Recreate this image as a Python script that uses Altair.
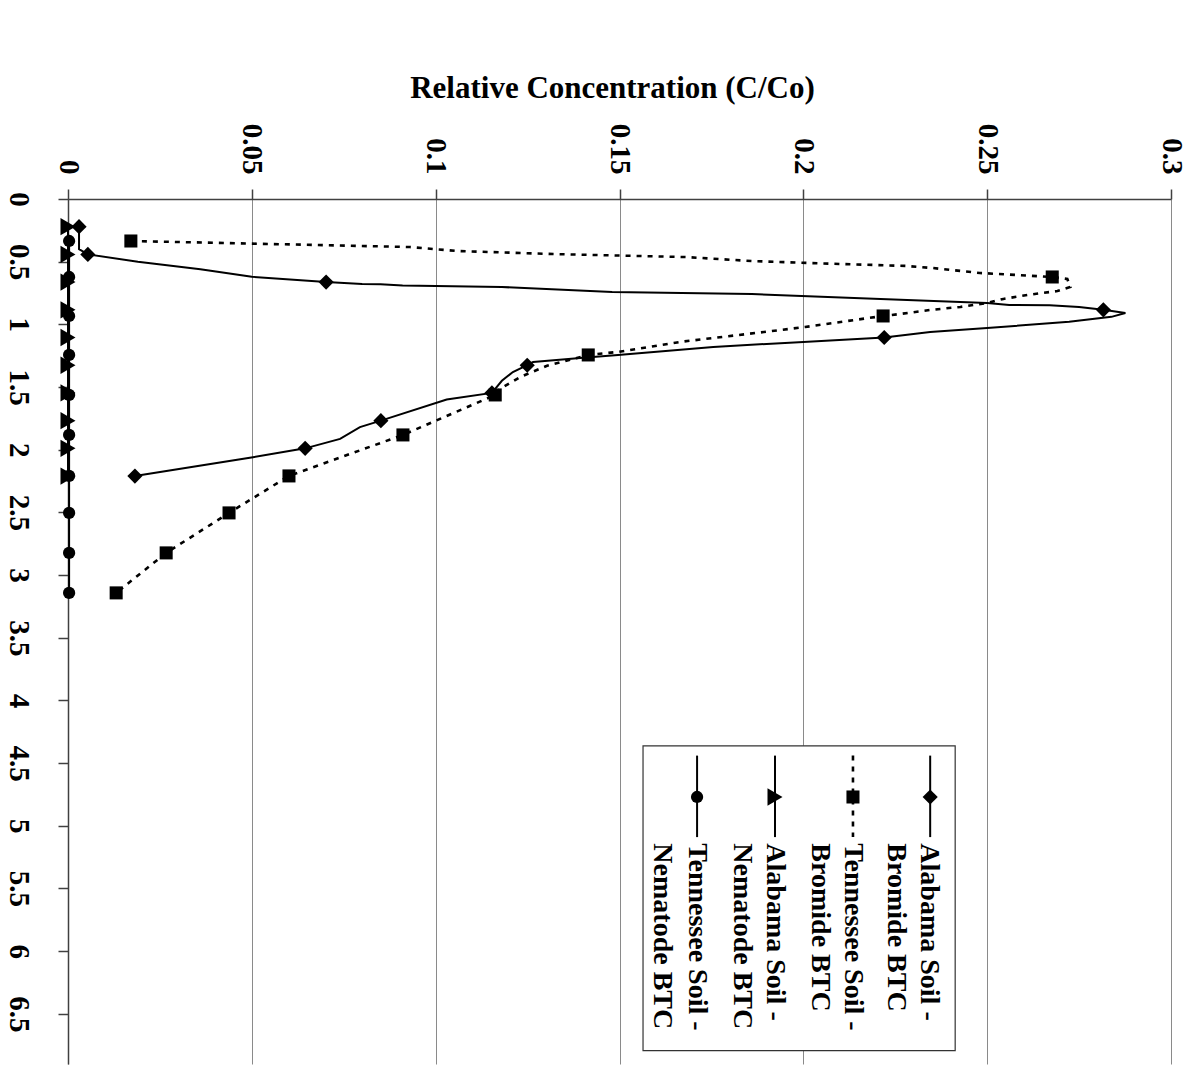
import altair as alt
import pandas as pd

# ---------------- data ----------------
# Alabama Soil - Bromide BTC : marked points (pore volume, C/Co)
al_br_pv = [0.221, 0.442, 0.663, 0.884, 1.105, 1.326, 1.547, 1.768, 1.989, 2.210]
al_br_c = [0.0030, 0.0054, 0.0702, 0.2816, 0.2220, 0.1249, 0.1153, 0.0851, 0.0645, 0.0182]
# Alabama Soil - Bromide BTC : drawn curve
al_br_line_pv = [0.221, 0.40, 0.442, 0.50, 0.56, 0.62, 0.663, 0.678, 0.680, 0.690, 0.694,
                 0.702, 0.742, 0.758, 0.798, 0.829, 0.845, 0.847, 0.861, 0.884, 0.909,
                 0.940, 0.980, 1.029, 1.061, 1.105, 1.140, 1.180, 1.244, 1.268, 1.300,
                 1.326, 1.380, 1.450, 1.547, 1.600, 1.768, 1.820, 1.914, 1.989, 2.060, 2.210]
al_br_line_c = [0.0030, 0.0030, 0.0054, 0.0190, 0.0360, 0.0500, 0.0702, 0.0800, 0.0850, 0.0910, 0.1000,
                0.1180, 0.1480, 0.1860, 0.2210, 0.2500, 0.2560, 0.2670, 0.2750, 0.2816, 0.2876,
                0.2838, 0.2723, 0.2500, 0.2345, 0.2220, 0.2000, 0.1755, 0.1496, 0.1393, 0.1265,
                0.1249, 0.1210, 0.1180, 0.1153, 0.1030, 0.0851, 0.0794, 0.0740, 0.0645, 0.0503, 0.0182]

# Tennessee Soil - Bromide BTC : marked points
tn_br_pv = [0.335, 0.622, 0.933, 1.244, 1.563, 1.882, 2.209, 2.504, 2.823, 3.142]
tn_br_c = [0.0171, 0.2677, 0.2217, 0.1415, 0.1162, 0.0911, 0.0601, 0.0438, 0.0267, 0.0131]
# Tennessee Soil - Bromide BTC : drawn curve
tn_br_line_pv = [0.335, 0.383, 0.415, 0.439, 0.463, 0.495, 0.511, 0.534, 0.550, 0.590, 0.622,
                 0.638, 0.702, 0.734, 0.766, 0.797, 0.829, 0.861, 0.885, 0.917, 0.933,
                 1.021, 1.077, 1.140, 1.220, 1.244, 1.330, 1.420, 1.515, 1.563,
                 1.882, 2.209, 2.504, 2.823, 3.142]
tn_br_line_c = [0.0171, 0.0930, 0.1060, 0.1320, 0.1680, 0.1860, 0.2020, 0.2280, 0.2350, 0.2480, 0.2677,
                0.2718, 0.2726, 0.2691, 0.2609, 0.2544, 0.2500, 0.2427, 0.2345, 0.2264, 0.2217,
                0.2005, 0.1847, 0.1665, 0.1496, 0.1415, 0.1303, 0.1230, 0.1175, 0.1162,
                0.0911, 0.0601, 0.0438, 0.0267, 0.0131]

# Nematode BTCs (essentially zero)
al_nem_pv = [0.221, 0.442, 0.663, 0.884, 1.105, 1.326, 1.547, 1.768, 1.989, 2.210]
al_nem_c = [0, 0, 0, 0, 0, 0, 0, 0, 0, 0]
tn_nem_pv = [0.335, 0.622, 0.933, 1.244, 1.563, 1.882, 2.209, 2.504, 2.823, 3.142]
tn_nem_c = [0.0003, 0.0003, 0.0003, 0.0003, 0.0003, 0.0003, 0.0003, 0.0003, 0.0003, 0.0003]

x_ticks = [0, 0.05, 0.1, 0.15, 0.2, 0.25, 0.3]
y_ticks = [0, 0.5, 1, 1.5, 2, 2.5, 3, 3.5, 4, 4.5, 5, 5.5, 6, 6.5]

# legend (placed in data units of the chart)
leg_names_1 = ["Alabama Soil -", "Tennessee Soil -", "Alabama Soil -", "Tennessee Soil -"]
leg_names_2 = ["Bromide BTC", "Bromide BTC", "Nematode BTC", "Nematode BTC"]
leg_line_c = [0.2345, 0.2135, 0.1923, 0.1711]
leg_text1_c = [0.2342, 0.2136, 0.1923, 0.1711]
leg_text2_c = [0.2253, 0.2046, 0.1834, 0.1616]
leg_line_pv = [4.44, 5.09]
leg_mark_pv = 4.77
leg_text_pv = 5.14
leg_box_c = [0.1564, 0.2413]
leg_box_pv = [4.362, 6.794]

FONT = "Liberation Serif"

# ---------------- encodings ----------------
X = alt.X("conc:Q",
          scale=alt.Scale(domain=[0, 0.3], nice=False, zero=False),
          axis=alt.Axis(orient="top", values=x_ticks, format="~g",
                        labelAngle=90, labelAlign="right", labelBaseline="middle",
                        labelPadding=15, tickSize=10, labelFlush=False, labelOverlap=False,
                        labelFont=FONT, labelFontSize=29, labelFontWeight="bold", labelColor="black",
                        grid=True, gridColor="#8a8a8a", gridWidth=1,
                        domainColor="#404040", domainWidth=1.5, tickColor="#404040", tickWidth=1.5,
                        title="Relative Concentration (C/Co)", titleFont=FONT, titleFontSize=31,
                        titleFontWeight="bold", titleColor="black", titleX=544, titleY=-102,
                        titleAlign="center", titleBaseline="alphabetic", titleAngle=0))
Y = alt.Y("pv:Q",
          scale=alt.Scale(domain=[0, 6.9], nice=False, zero=False, reverse=True),
          axis=alt.Axis(orient="left", values=y_ticks, format="~g",
                        labelAngle=90, labelAlign="center", labelBaseline="top",
                        labelPadding=26, tickSize=10, labelFlush=False, labelOverlap=False,
                        labelFont=FONT, labelFontSize=29, labelFontWeight="bold", labelColor="black",
                        grid=False, domainColor="#404040", domainWidth=1.5,
                        tickColor="#404040", tickWidth=1.5, title=None))


def df_from(pv, c):
    return pd.DataFrame({"pv": pv, "conc": c, "idx": list(range(len(pv)))})


def line_layer(pv, c, width=2, **kw):
    return alt.Chart(df_from(pv, c)).mark_line(color="black", strokeWidth=width, **kw).encode(
        x=X, y=Y, order=alt.Order("idx:Q"))


def point_layer(pv, c, shape, size):
    return alt.Chart(df_from(pv, c)).mark_point(shape=shape, filled=True, size=size,
                                               color="black", opacity=1).encode(x=X, y=Y)


SHAPES = [("diamond", 230), ("square", 170), ("triangle-right", 300), ("circle", 150)]

layers = [
    line_layer(al_nem_pv, al_nem_c),
    line_layer(tn_nem_pv, tn_nem_c),
    line_layer(al_br_line_pv, al_br_line_c),
    line_layer(tn_br_line_pv, tn_br_line_c, width=2.6, strokeDash=[5, 6]),
    point_layer(al_nem_pv, al_nem_c, *SHAPES[2]),
    point_layer(tn_nem_pv, tn_nem_c, *SHAPES[3]),
    point_layer(al_br_pv, al_br_c, *SHAPES[0]),
    point_layer(tn_br_pv, tn_br_c, *SHAPES[1]),
]

# ---------------- legend ----------------
box_df = pd.DataFrame({"conc": [leg_box_c[0]], "conc2": [leg_box_c[1]],
                       "pv": [leg_box_pv[0]], "pv2": [leg_box_pv[1]]})
layers.append(alt.Chart(box_df).mark_rect(fill="white", stroke="#333333", strokeWidth=1.2).encode(
    x=X, x2=alt.X2("conc2"), y=Y, y2=alt.Y2("pv2")))

solid_idx = [0, 2, 3]
leg_solid = pd.DataFrame({"conc": [leg_line_c[i] for i in solid_idx],
                          "pv": [leg_line_pv[0]] * 3, "pv2": [leg_line_pv[1]] * 3})
layers.append(alt.Chart(leg_solid).mark_rule(color="black", strokeWidth=2).encode(
    x=X, y=Y, y2=alt.Y2("pv2")))
leg_dash = pd.DataFrame({"conc": [leg_line_c[1]], "pv": [leg_line_pv[0]], "pv2": [leg_line_pv[1]]})
layers.append(alt.Chart(leg_dash).mark_rule(color="black", strokeWidth=2.6, strokeDash=[5, 6]).encode(
    x=X, y=Y, y2=alt.Y2("pv2")))

for i, (shape, size) in enumerate(SHAPES):
    mdf = pd.DataFrame({"conc": [leg_line_c[i]], "pv": [leg_mark_pv]})
    layers.append(alt.Chart(mdf).mark_point(shape=shape, filled=True, size=size,
                                            color="black", opacity=1).encode(x=X, y=Y))

text_df = pd.DataFrame({"conc": leg_text1_c + leg_text2_c,
                        "pv": [leg_text_pv] * 8,
                        "label": leg_names_1 + leg_names_2})
layers.append(alt.Chart(text_df).mark_text(angle=90, align="left", baseline="middle",
                                           font=FONT, fontSize=28, fontWeight="bold",
                                           color="black").encode(x=X, y=Y, text="label:N"))

chart = alt.layer(*layers).properties(
    width=1103, height=865,
    autosize=alt.AutoSizeParams(type="none"),
    padding={"left": 68, "top": 199, "right": 27, "bottom": 3},
    background="white",
).configure_view(stroke=None)

chart.save("out.html", embed_options={"renderer": "svg", "actions": False})
